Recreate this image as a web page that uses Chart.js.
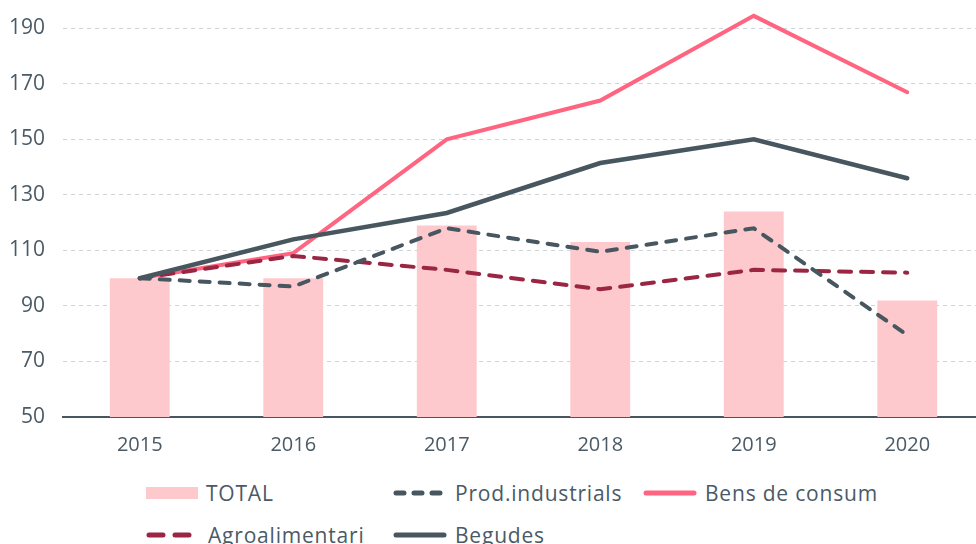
<!DOCTYPE html>
<html>
<head>
<meta charset="utf-8">
<script src="https://cdn.jsdelivr.net/npm/chart.js@4"></script>
<style>
  html, body { margin: 0; padding: 0; background: #fff; overflow: hidden; width: 976px; height: 544px; }
  #wrap { position: absolute; left: 0; top: -30px; width: 984px; height: 495px; }
  #legend {
    position: absolute; left: 146px; top: 472px;
    display: grid; grid-template-columns: 247px 250px auto; grid-auto-rows: 42px;
    font-family: 'Open Sans', sans-serif; font-size: 21px; letter-spacing: 0.8px; color: #4a5a66;
  }
  .item { display: flex; align-items: center; height: 42px; white-space: nowrap; }
  .item svg { margin-right: 8px; flex: none; }
</style>
</head>
<body>
<div id="wrap"><canvas id="chart"></canvas></div>
<div id="legend"></div>
<script>
const years = ['2015', '2016', '2017', '2018', '2019', '2020'];
const total = [100, 100, 119, 113, 124, 92];
const prodIndustrials = [100, 97, 118, 109.5, 118, 79.5];
const bensConsum = [100, 109, 150, 164, 194.5, 167];
const agroalimentari = [100, 108, 103, 96, 103, 102];
const begudes = [100, 114, 123.5, 141.5, 150, 136];
const yTicks = [50, 70, 90, 110, 130, 150, 170, 190];

const textColor = '#4a5a66';
const slate = '#48565f';
const pink = '#ff6580';
const wine = '#9a2644';
const barPink = '#fdc9cd';

const chart = new Chart(document.getElementById('chart'), {
  data: {
    labels: years,
    datasets: [
      {
        type: 'bar',
        label: 'TOTAL',
        data: total,
        backgroundColor: barPink,
        barPercentage: 0.39,
        categoryPercentage: 1,
        order: 10,
      },
      {
        type: 'line',
        label: 'Prod.industrials',
        data: prodIndustrials,
        borderColor: slate,
        borderWidth: 4,
        borderDash: [10, 10],
        borderCapStyle: 'round',
        pointRadius: 0,
        tension: 0,
        order: 2,
      },
      {
        type: 'line',
        label: 'Bens de consum',
        data: bensConsum,
        borderColor: pink,
        borderWidth: 4,
        borderCapStyle: 'round',
        pointRadius: 0,
        tension: 0,
        order: 4,
      },
      {
        type: 'line',
        label: 'Agroalimentari',
        data: agroalimentari,
        borderColor: wine,
        borderWidth: 4,
        borderDash: [12, 10],
        borderCapStyle: 'round',
        pointRadius: 0,
        tension: 0,
        order: 3,
      },
      {
        type: 'line',
        label: 'Begudes',
        data: begudes,
        borderColor: slate,
        borderWidth: 4.5,
        borderCapStyle: 'round',
        pointRadius: 0,
        tension: 0,
        order: 1,
      },
    ],
  },
  options: {
    responsive: true,
    maintainAspectRatio: false,
    animation: false,
    layout: { padding: 0 },
    plugins: {
      legend: { display: false },
      tooltip: { enabled: false },
    },
    scales: {
      x: {
        grid: { display: false, drawTicks: false },
        border: { display: true, color: slate, width: 2 },
        ticks: {
          color: textColor,
          padding: 16,
          font: { family: 'Open Sans', size: 20 },
        },
        afterFit: (scale) => { scale.height = 48; },
      },
      y: {
        min: 50,
        max: 200,
        grid: { color: '#cdd5db', lineWidth: 1, drawTicks: false },
        border: { display: false, dash: [4, 4] },
        ticks: {
          color: textColor,
          padding: 18,
          font: { family: 'Open Sans', size: 21 },
        },
        afterBuildTicks: (scale) => {
          scale.ticks = yTicks.map((v) => ({ value: v }));
        },
        afterFit: (scale) => { scale.width = 63; },
      },
    },
  },
});

// legend laid out in fixed columns like the original
const legendIcon = (ds) => {
  if (ds.type === 'bar') {
    return '<svg width="52" height="14"><rect x="0" y="1" width="52" height="12" fill="' + ds.backgroundColor + '"/></svg>';
  }
  const dash = ds.borderDash ? ds.label === 'Agroalimentari' ? '14 12' : '8 10' : 'none';
  return '<svg width="54" height="10"><line x1="3" y1="5" x2="51" y2="5" stroke="' + ds.borderColor +
    '" stroke-width="5" stroke-linecap="round" stroke-dasharray="' + dash + '"/></svg>';
};

document.getElementById('legend').innerHTML = chart.data.datasets
  .map((ds) => '<div class="item">' + legendIcon(ds) + '<span>' + ds.label + '</span></div>')
  .join('');
</script>
</body>
</html>
